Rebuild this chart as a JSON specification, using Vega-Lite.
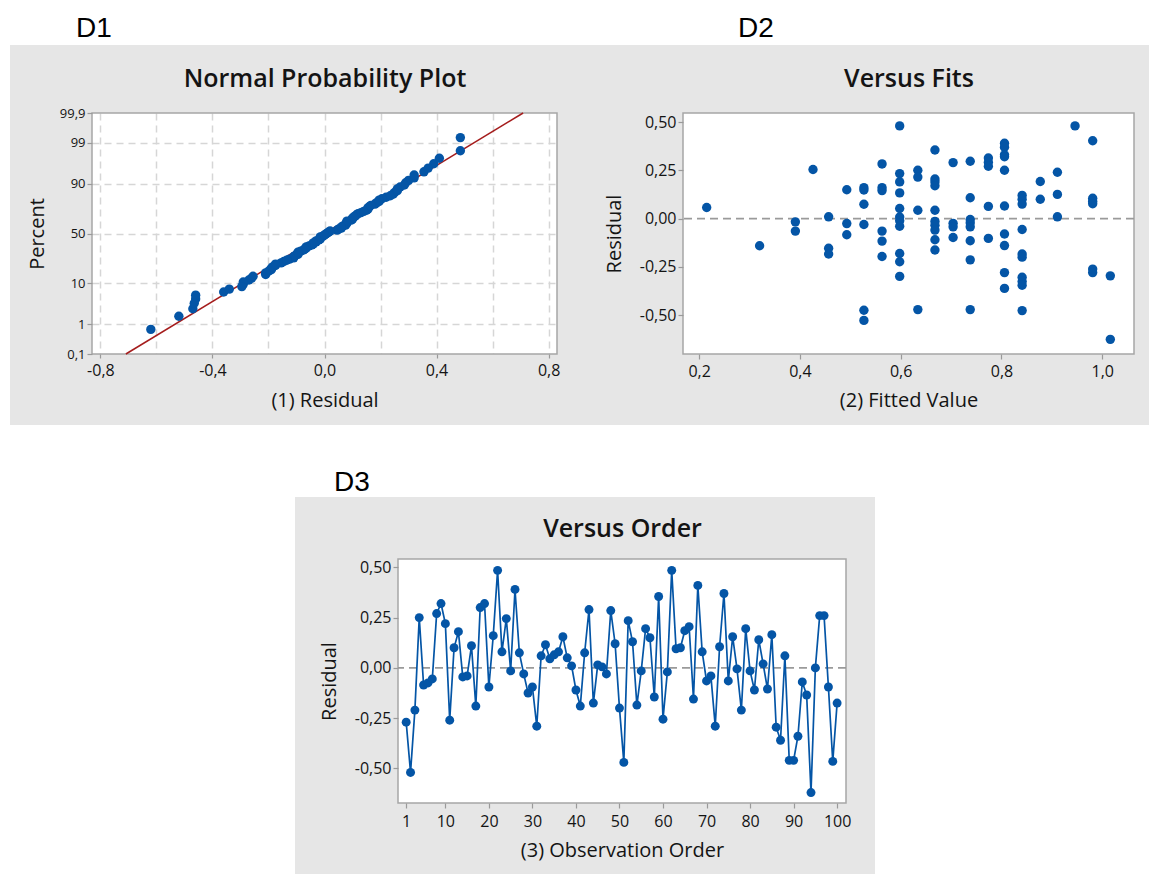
{
  "$schema": "https://vega.github.io/schema/vega-lite/v6.json",
  "background": "white",
  "padding": {"left": 10, "top": 15, "right": 0, "bottom": 0},
  "datasets": {
    "residuals": [
      {"obs":1,"resid":-0.27,"nscore":-1.193},{"obs":2,"resid":-0.52,"nscore":-2.122},{"obs":3,"resid":-0.21,"nscore":-1.052},{"obs":4,"resid":0.25,"nscore":1.052},
      {"obs":5,"resid":-0.085,"nscore":-0.452},{"obs":6,"resid":-0.075,"nscore":-0.424},{"obs":7,"resid":-0.055,"nscore":-0.318},{"obs":8,"resid":0.27,"nscore":1.193},
      {"obs":9,"resid":0.32,"nscore":1.428},{"obs":10,"resid":0.22,"nscore":0.93},{"obs":11,"resid":-0.26,"nscore":-1.143},{"obs":12,"resid":0.1,"nscore":0.37},
      {"obs":13,"resid":0.18,"nscore":0.752},{"obs":14,"resid":-0.045,"nscore":-0.292},{"obs":15,"resid":-0.04,"nscore":-0.266},{"obs":16,"resid":0.11,"nscore":0.452},
      {"obs":17,"resid":-0.19,"nscore":-0.93},{"obs":18,"resid":0.3,"nscore":1.362},{"obs":19,"resid":0.32,"nscore":1.5},{"obs":20,"resid":-0.095,"nscore":-0.536},
      {"obs":21,"resid":0.16,"nscore":0.687},{"obs":22,"resid":0.485,"nscore":2.122},{"obs":23,"resid":0.08,"nscore":0.266},{"obs":24,"resid":0.245,"nscore":1.009},
      {"obs":25,"resid":-0.015,"nscore":-0.138},{"obs":26,"resid":0.39,"nscore":1.788},{"obs":27,"resid":0.075,"nscore":0.214},{"obs":28,"resid":-0.03,"nscore":-0.214},
      {"obs":29,"resid":-0.125,"nscore":-0.656},{"obs":30,"resid":-0.095,"nscore":-0.508},{"obs":31,"resid":-0.29,"nscore":-1.301},{"obs":32,"resid":0.06,"nscore":0.138},
      {"obs":33,"resid":0.115,"nscore":0.48},{"obs":34,"resid":0.045,"nscore":0.0875},{"obs":35,"resid":0.065,"nscore":0.189},{"obs":36,"resid":0.08,"nscore":0.292},
      {"obs":37,"resid":0.155,"nscore":0.625},{"obs":38,"resid":0.05,"nscore":0.113},{"obs":39,"resid":0.01,"nscore":0.0125},{"obs":40,"resid":-0.11,"nscore":-0.625},
      {"obs":41,"resid":-0.19,"nscore":-0.892},{"obs":42,"resid":0.075,"nscore":0.24},{"obs":43,"resid":0.29,"nscore":1.301},{"obs":44,"resid":-0.175,"nscore":-0.82},
      {"obs":45,"resid":0.015,"nscore":0.0375},{"obs":46,"resid":0.005,"nscore":-0.0125},{"obs":47,"resid":-0.03,"nscore":-0.189},{"obs":48,"resid":0.285,"nscore":1.245},
      {"obs":49,"resid":0.12,"nscore":0.508},{"obs":50,"resid":-0.2,"nscore":-0.969},{"obs":51,"resid":-0.47,"nscore":-1.929},{"obs":52,"resid":0.235,"nscore":0.969},
      {"obs":53,"resid":0.13,"nscore":0.536},{"obs":54,"resid":-0.185,"nscore":-0.855},{"obs":55,"resid":-0.015,"nscore":-0.113},{"obs":56,"resid":0.195,"nscore":0.82},
      {"obs":57,"resid":0.15,"nscore":0.595},{"obs":58,"resid":-0.145,"nscore":-0.719},{"obs":59,"resid":0.355,"nscore":1.582},{"obs":60,"resid":-0.255,"nscore":-1.096},
      {"obs":61,"resid":-0.02,"nscore":-0.163},{"obs":62,"resid":0.485,"nscore":2.459},{"obs":63,"resid":0.095,"nscore":0.344},{"obs":64,"resid":0.1,"nscore":0.397},
      {"obs":65,"resid":0.185,"nscore":0.785},{"obs":66,"resid":0.205,"nscore":0.892},{"obs":67,"resid":-0.155,"nscore":-0.752},{"obs":68,"resid":0.41,"nscore":1.929},
      {"obs":69,"resid":0.08,"nscore":0.318},{"obs":70,"resid":-0.065,"nscore":-0.37},{"obs":71,"resid":-0.04,"nscore":-0.24},{"obs":72,"resid":-0.29,"nscore":-1.245},
      {"obs":73,"resid":0.105,"nscore":0.424},{"obs":74,"resid":0.37,"nscore":1.677},{"obs":75,"resid":-0.065,"nscore":-0.344},{"obs":76,"resid":0.155,"nscore":0.656},
      {"obs":77,"resid":-0.005,"nscore":-0.0625},{"obs":78,"resid":-0.21,"nscore":-1.009},{"obs":79,"resid":0.195,"nscore":0.855},{"obs":80,"resid":-0.015,"nscore":-0.0875},
      {"obs":81,"resid":-0.11,"nscore":-0.595},{"obs":82,"resid":0.14,"nscore":0.566},{"obs":83,"resid":0.02,"nscore":0.0625},{"obs":84,"resid":-0.105,"nscore":-0.566},
      {"obs":85,"resid":0.165,"nscore":0.719},{"obs":86,"resid":-0.295,"nscore":-1.362},{"obs":87,"resid":-0.36,"nscore":-1.5},{"obs":88,"resid":0.06,"nscore":0.163},
      {"obs":89,"resid":-0.46,"nscore":-1.677},{"obs":90,"resid":-0.46,"nscore":-1.582},{"obs":91,"resid":-0.34,"nscore":-1.428},{"obs":92,"resid":-0.07,"nscore":-0.397},
      {"obs":93,"resid":-0.135,"nscore":-0.687},{"obs":94,"resid":-0.62,"nscore":-2.459},{"obs":95,"resid":0.0,"nscore":-0.0375},{"obs":96,"resid":0.26,"nscore":1.096},
      {"obs":97,"resid":0.26,"nscore":1.143},{"obs":98,"resid":-0.095,"nscore":-0.48},{"obs":99,"resid":-0.465,"nscore":-1.788},{"obs":100,"resid":-0.175,"nscore":-0.785}
    ],
    "fits": [
      {"fit":0.215,"resid":0.057},
      {"fit":0.32,"resid":-0.141},
      {"fit":0.391,"resid":-0.017},{"fit":0.391,"resid":-0.065},
      {"fit":0.426,"resid":0.254},
      {"fit":0.457,"resid":0.009},{"fit":0.457,"resid":-0.154},{"fit":0.457,"resid":-0.184},
      {"fit":0.493,"resid":0.149},{"fit":0.493,"resid":-0.026},{"fit":0.493,"resid":-0.084},
      {"fit":0.527,"resid":0.16},{"fit":0.527,"resid":0.148},{"fit":0.527,"resid":0.074},{"fit":0.527,"resid":-0.031},{"fit":0.527,"resid":-0.475},{"fit":0.527,"resid":-0.528},
      {"fit":0.563,"resid":0.283},{"fit":0.563,"resid":0.16},{"fit":0.563,"resid":0.145},{"fit":0.563,"resid":-0.065},{"fit":0.563,"resid":-0.117},{"fit":0.563,"resid":-0.197},
      {"fit":0.598,"resid":0.48},{"fit":0.598,"resid":0.233},{"fit":0.598,"resid":0.19},{"fit":0.598,"resid":0.133},{"fit":0.598,"resid":0.052},{"fit":0.598,"resid":0.008},
      {"fit":0.598,"resid":-0.012},{"fit":0.598,"resid":-0.04},{"fit":0.598,"resid":-0.181},{"fit":0.598,"resid":-0.224},{"fit":0.598,"resid":-0.3},
      {"fit":0.634,"resid":0.25},{"fit":0.634,"resid":0.215},{"fit":0.634,"resid":0.043},{"fit":0.634,"resid":-0.472},
      {"fit":0.668,"resid":0.355},{"fit":0.668,"resid":0.205},{"fit":0.668,"resid":0.19},{"fit":0.668,"resid":0.17},{"fit":0.668,"resid":0.043},
      {"fit":0.668,"resid":-0.015},{"fit":0.668,"resid":-0.035},{"fit":0.668,"resid":-0.06},{"fit":0.668,"resid":-0.11},{"fit":0.668,"resid":-0.163},
      {"fit":0.704,"resid":0.29},{"fit":0.704,"resid":-0.025},{"fit":0.704,"resid":-0.043},{"fit":0.704,"resid":-0.098},
      {"fit":0.738,"resid":0.297},{"fit":0.738,"resid":0.108},{"fit":0.738,"resid":-0.005},{"fit":0.738,"resid":-0.022},{"fit":0.738,"resid":-0.043},
      {"fit":0.738,"resid":-0.115},{"fit":0.738,"resid":-0.214},{"fit":0.738,"resid":-0.472},
      {"fit":0.774,"resid":0.314},{"fit":0.774,"resid":0.292},{"fit":0.774,"resid":0.271},{"fit":0.774,"resid":0.063},{"fit":0.774,"resid":-0.103},
      {"fit":0.806,"resid":0.39},{"fit":0.806,"resid":0.37},{"fit":0.806,"resid":0.33},{"fit":0.806,"resid":0.32},{"fit":0.806,"resid":0.25},
      {"fit":0.806,"resid":0.065},{"fit":0.806,"resid":-0.08},{"fit":0.806,"resid":-0.14},{"fit":0.806,"resid":-0.28},{"fit":0.806,"resid":-0.362},
      {"fit":0.841,"resid":0.12},{"fit":0.841,"resid":0.1},{"fit":0.841,"resid":0.075},{"fit":0.841,"resid":-0.057},{"fit":0.841,"resid":-0.184},
      {"fit":0.841,"resid":-0.2},{"fit":0.841,"resid":-0.304},{"fit":0.841,"resid":-0.326},{"fit":0.841,"resid":-0.346},{"fit":0.841,"resid":-0.477},
      {"fit":0.877,"resid":0.192},{"fit":0.877,"resid":0.1},
      {"fit":0.911,"resid":0.24},{"fit":0.911,"resid":0.125},{"fit":0.911,"resid":0.009},
      {"fit":0.946,"resid":0.48},
      {"fit":0.981,"resid":0.403},{"fit":0.981,"resid":0.105},{"fit":0.981,"resid":0.09},{"fit":0.981,"resid":0.077},{"fit":0.981,"resid":-0.262},{"fit":0.981,"resid":-0.28},
      {"fit":1.016,"resid":-0.297},{"fit":1.016,"resid":-0.626}
    ]
  },
  "spacing": 42,
  "vconcat": [
    {
      "spacing": 0,
      "hconcat": [
        {
          "title": {"text": "D1", "dx": 66, "offset": 2},
          "width": 465,
          "height": 241,
          "data": {"name": "residuals"},
          "resolve": {"axis": {"x": "independent", "y": "independent"}},
          "layer": [
            {"data": {"values": [{}]}, "mark": {"type": "rect", "color": "#e6e6e6", "strokeWidth": 0, "clip": false},
             "encoding": {"x": {"datum": -1.1227, "axis": null}, "x2": {"datum": 0.8764}, "y": {"datum": 3.0902, "axis": null}, "y2": {"datum": 4.834}}},
            {"data": {"values": [{}]}, "mark": {"type": "rect", "color": "#e6e6e6", "strokeWidth": 0, "clip": false},
             "encoding": {"x": {"datum": -1.1227, "axis": null}, "x2": {"datum": 0.8764}, "y": {"datum": -4.911, "axis": null}, "y2": {"datum": -3.0902}}},
            {"data": {"values": [{}]}, "mark": {"type": "rect", "color": "#e6e6e6", "strokeWidth": 0, "clip": false},
             "encoding": {"x": {"datum": -1.1227, "axis": null}, "x2": {"datum": -0.83}, "y": {"datum": -3.0902, "axis": null}, "y2": {"datum": 3.0902}}},
            {"data": {"values": [{}]}, "mark": {"type": "rect", "color": "#e6e6e6", "strokeWidth": 0, "clip": false},
             "encoding": {"x": {"datum": 0.83, "axis": null}, "x2": {"datum": 0.8764}, "y": {"datum": -3.0902, "axis": null}, "y2": {"datum": 3.0902}}},
            {"data": {"values": [{}]}, "mark": {"type": "rect", "filled": false, "stroke": "#a6a6a6", "strokeWidth": 1.5},
             "encoding": {
               "x": {"datum": -0.83, "axis": {"orient": "bottom", "values": [-0.8, -0.6, -0.4, -0.2, 0, 0.2, 0.4, 0.6, 0.8], "grid": true, "gridColor": "#d6d6d6", "gridDash": [7, 5], "gridWidth": 1.5, "labels": false, "ticks": false, "domain": false, "title": null, "zindex": 0}},
               "x2": {"datum": 0.83},
               "y": {"datum": -3.0902, "axis": {"orient": "left", "values": [-2.3263, -1.2816, 0, 1.2816, 2.3263], "grid": true, "gridColor": "#d6d6d6", "gridDash": [7, 5], "gridWidth": 1.5, "labels": false, "ticks": false, "domain": false, "title": null, "zindex": 0}},
               "y2": {"datum": 3.0902}
             }},
            {"data": {"values": [{"resid": -0.709, "nscore": -3.0902}, {"resid": 0.709, "nscore": 3.0902}]},
             "mark": {"type": "line", "color": "#a51d1d", "strokeWidth": 1.5},
             "encoding": {
               "x": {"field": "resid", "type": "quantitative", "axis": {"orient": "top", "labels": false, "ticks": false, "domain": false, "grid": false, "title": "Normal Probability Plot", "titleFontSize": 25, "titleFontWeight": 600, "titlePadding": 22, "zindex": 1}},
               "y": {"field": "nscore", "type": "quantitative", "axis": null}
             }},
            {"mark": {"type": "circle", "size": 88, "color": "#0455a6", "opacity": 1},
             "encoding": {
               "x": {"field": "resid", "type": "quantitative", "scale": {"domain": [-0.83, 0.83], "zero": false, "nice": false},
                     "axis": {"orient": "bottom", "values": [-0.8, -0.4, 0, 0.4, 0.8], "format": ".1f", "grid": false, "domain": false, "tickSize": 4, "labelPadding": 4, "labelFontSize": 16, "title": "(1) Residual", "titleFontSize": 20, "titlePadding": 12, "zindex": 1}},
               "y": {"field": "nscore", "type": "quantitative", "scale": {"domain": [-3.0902, 3.0902], "zero": false, "nice": false},
                     "axis": {"orient": "left", "values": [-3.0902, -2.3263, -1.2816, 0, 1.2816, 2.3263, 3.0902],
                              "labelExpr": "datum.value < -3 ? '0,1' : datum.value < -2 ? '1' : datum.value < -1 ? '10' : datum.value < 1 ? '50' : datum.value < 2 ? '90' : datum.value < 3 ? '99' : '99,9'",
                              "grid": false, "domain": false, "tickSize": 5, "labelPadding": 2, "labelFontSize": 13, "title": "Percent", "titleFontSize": 20, "titlePadding": 12, "zindex": 1}}
             }}
          ]
        },
        {
          "title": {"text": "D2", "dx": 168, "offset": 2},
          "width": 451,
          "height": 241,
          "data": {"name": "fits"},
          "resolve": {"axis": {"x": "independent", "y": "independent"}},
          "layer": [
            {"data": {"values": [{}]}, "mark": {"type": "rect", "color": "#e6e6e6", "strokeWidth": 0, "clip": false},
             "encoding": {"x": {"datum": -0.0562, "axis": null}, "x2": {"datum": 1.0928}, "y": {"datum": 0.547, "axis": null}, "y2": {"datum": 0.8994}}},
            {"data": {"values": [{}]}, "mark": {"type": "rect", "color": "#e6e6e6", "strokeWidth": 0, "clip": false},
             "encoding": {"x": {"datum": -0.0562, "axis": null}, "x2": {"datum": 1.0928}, "y": {"datum": -1.07, "axis": null}, "y2": {"datum": -0.702}}},
            {"data": {"values": [{}]}, "mark": {"type": "rect", "color": "#e6e6e6", "strokeWidth": 0, "clip": false},
             "encoding": {"x": {"datum": -0.0562, "axis": null}, "x2": {"datum": 0.168}, "y": {"datum": -0.702, "axis": null}, "y2": {"datum": 0.547}}},
            {"data": {"values": [{}]}, "mark": {"type": "rect", "color": "#e6e6e6", "strokeWidth": 0, "clip": false},
             "encoding": {"x": {"datum": 1.063, "axis": null}, "x2": {"datum": 1.0928}, "y": {"datum": -0.702, "axis": null}, "y2": {"datum": 0.547}}},
            {"data": {"values": [{}]}, "mark": {"type": "rect", "filled": false, "stroke": "#a6a6a6", "strokeWidth": 1.5},
             "encoding": {
               "x": {"datum": 0.168, "axis": {"orient": "top", "labels": false, "ticks": false, "domain": false, "grid": false, "title": "Versus Fits", "titleFontSize": 25, "titleFontWeight": 600, "titlePadding": 22, "zindex": 1}},
               "x2": {"datum": 1.063},
               "y": {"datum": -0.702, "axis": null},
               "y2": {"datum": 0.547}
             }},
            {"data": {"values": [{}]}, "mark": {"type": "rule", "color": "#9a9a9a", "strokeDash": [8, 5], "strokeWidth": 1.8},
             "encoding": {"y": {"datum": 0, "axis": null}}},
            {"mark": {"type": "circle", "size": 88, "color": "#0455a6", "opacity": 1},
             "encoding": {
               "x": {"field": "fit", "type": "quantitative", "scale": {"domain": [0.168, 1.063], "zero": false, "nice": false},
                     "axis": {"orient": "bottom", "values": [0.2, 0.4, 0.6, 0.8, 1.0], "format": ".1f", "grid": false, "domain": false, "tickSize": 5, "labelPadding": 4, "labelFontSize": 16, "title": "(2) Fitted Value", "titleFontSize": 20, "titlePadding": 11, "zindex": 1}},
               "y": {"field": "resid", "type": "quantitative", "scale": {"domain": [-0.702, 0.547], "zero": false, "nice": false},
                     "axis": {"orient": "left", "values": [-0.5, -0.25, 0, 0.25, 0.5], "format": ".2f", "grid": false, "domain": false, "tickSize": 5, "labelPadding": 2, "labelFontSize": 16, "title": "Residual", "titleFontSize": 20, "titlePadding": 15, "zindex": 1}}
             }}
          ]
        }
      ]
    },
    {
      "spacing": 0,
      "hconcat": [
        {
          "width": 203,
          "height": 1,
          "data": {"values": []},
          "mark": "point"
        },
        {
          "title": {"text": "D3", "dx": 39, "offset": 0},
          "width": 448,
          "height": 244,
          "data": {"name": "residuals"},
          "resolve": {"axis": {"x": "independent", "y": "independent"}},
          "layer": [
            {"data": {"values": [{}]}, "mark": {"type": "rect", "color": "#e6e6e6", "strokeWidth": 0, "clip": false},
             "encoding": {"x": {"datum": -24.54, "axis": null}, "x2": {"datum": 108.7}, "y": {"datum": 0.5415, "axis": null}, "y2": {"datum": 0.8499}}},
            {"data": {"values": [{}]}, "mark": {"type": "rect", "color": "#e6e6e6", "strokeWidth": 0, "clip": false},
             "encoding": {"x": {"datum": -24.54, "axis": null}, "x2": {"datum": 108.7}, "y": {"datum": -1.0351, "axis": null}, "y2": {"datum": -0.672}}},
            {"data": {"values": [{}]}, "mark": {"type": "rect", "color": "#e6e6e6", "strokeWidth": 0, "clip": false},
             "encoding": {"x": {"datum": -24.54, "axis": null}, "x2": {"datum": -0.88}, "y": {"datum": -0.672, "axis": null}, "y2": {"datum": 0.5415}}},
            {"data": {"values": [{}]}, "mark": {"type": "rect", "color": "#e6e6e6", "strokeWidth": 0, "clip": false},
             "encoding": {"x": {"datum": 102.04, "axis": null}, "x2": {"datum": 108.7}, "y": {"datum": -0.672, "axis": null}, "y2": {"datum": 0.5415}}},
            {"data": {"values": [{}]}, "mark": {"type": "rect", "filled": false, "stroke": "#a6a6a6", "strokeWidth": 1.5},
             "encoding": {
               "x": {"datum": -0.88, "axis": {"orient": "top", "labels": false, "ticks": false, "domain": false, "grid": false, "title": "Versus Order", "titleFontSize": 25, "titleFontWeight": 600, "titlePadding": 18, "zindex": 1}},
               "x2": {"datum": 102.04},
               "y": {"datum": -0.672, "axis": null},
               "y2": {"datum": 0.5415}
             }},
            {"data": {"values": [{}]}, "mark": {"type": "rule", "color": "#9a9a9a", "strokeDash": [8, 5], "strokeWidth": 1.8},
             "encoding": {"y": {"datum": 0, "axis": null}}},
            {"mark": {"type": "line", "color": "#0455a6", "strokeWidth": 1.7},
             "encoding": {
               "x": {"field": "obs", "type": "quantitative", "axis": null},
               "y": {"field": "resid", "type": "quantitative", "axis": null}
             }},
            {"mark": {"type": "circle", "size": 80, "color": "#0455a6", "opacity": 1},
             "encoding": {
               "x": {"field": "obs", "type": "quantitative", "scale": {"domain": [-0.88, 102.04], "zero": false, "nice": false},
                     "axis": {"orient": "bottom", "values": [1, 10, 20, 30, 40, 50, 60, 70, 80, 90, 100], "format": "d", "grid": false, "domain": false, "tickSize": 5, "labelPadding": 5, "labelFontSize": 16, "title": "(3) Observation Order", "titleFontSize": 20, "titlePadding": 11, "zindex": 1}},
               "y": {"field": "resid", "type": "quantitative", "scale": {"domain": [-0.672, 0.5415], "zero": false, "nice": false},
                     "axis": {"orient": "left", "values": [-0.5, -0.25, 0, 0.25, 0.5], "format": ".2f", "grid": false, "domain": false, "tickSize": 5, "labelPadding": 2, "labelFontSize": 16, "title": "Residual", "titleFontSize": 20, "titlePadding": 15, "zindex": 1}}
             }}
          ]
        }
      ]
    }
  ],
  "config": {
    "view": {"stroke": null, "fill": "#ffffff"},
    "locale": {"number": {"decimal": ",", "thousands": ".", "grouping": [3], "currency": ["", ""], "minus": "-"}},
    "title": {"font": "Liberation Sans", "fontSize": 28, "fontWeight": "normal", "color": "#000000", "anchor": "start", "frame": "bounds"},
    "axis": {"labelFont": "Open Sans", "titleFont": "Open Sans", "labelColor": "#141414", "titleColor": "#141414", "titleFontWeight": "normal", "tickColor": "#9a9a9a", "tickWidth": 1.2, "labelFlush": false, "labelOverlap": false, "labelBound": false}
  }
}
